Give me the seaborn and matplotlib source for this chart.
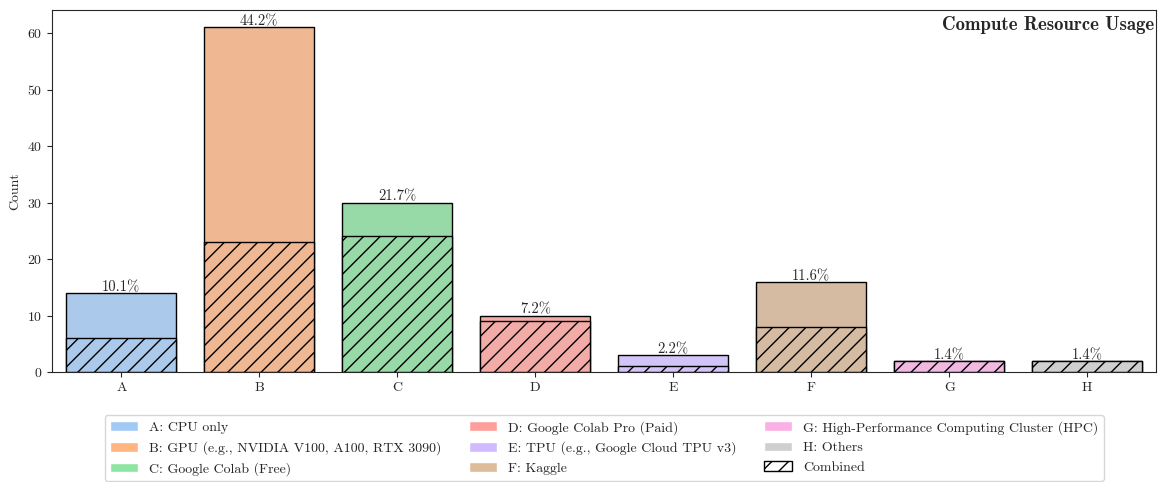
import pandas as pd
import matplotlib.pyplot as plt
from matplotlib.patches import Patch
import seaborn as sns

# data
categories = ['A', 'B', 'C', 'D', 'E', 'F', 'G', 'H']
labels = ['A: CPU only',
          'B: GPU (e.g., NVIDIA V100, A100, RTX 3090)',
          'C: Google Colab (Free)',
          'D: Google Colab Pro (Paid)',
          'E: TPU (e.g., Google Cloud TPU v3)',
          'F: Kaggle',
          'G: High-Performance Computing Cluster (HPC)',
          'H: Others']
totals = [14, 61, 30, 10, 3, 16, 2, 2]
combined = [6, 23, 24, 9, 1, 8, 2, 2]


def main():
    sns.set_style('ticks')
    plt.rcParams['font.family'] = 'serif'
    plt.rcParams['font.serif'] = ['cmr10', 'DejaVu Serif']
    plt.rcParams['mathtext.fontset'] = 'cm'
    plt.rcParams['axes.formatter.use_mathtext'] = True
    plt.rcParams['font.size'] = 10

    palette = sns.color_palette('pastel', len(categories))
    df = pd.DataFrame({'cat': categories, 'total': totals, 'combined': combined})

    fig, ax = plt.subplots(figsize=(11.62, 4.82), dpi=100)
    fig.subplots_adjust(left=0.045, right=0.995, top=0.979, bottom=0.228)

    sns.barplot(data=df, x='cat', y='total', hue='cat', palette=palette,
                edgecolor='black', linewidth=1, legend=False, ax=ax)
    n_before = len(ax.patches)
    sns.barplot(data=df, x='cat', y='combined', hue='cat', palette=palette,
                edgecolor='black', linewidth=1, legend=False, ax=ax)
    for p in ax.patches[n_before:]:
        p.set_hatch('//')

    # percentage labels on top of each bar
    n_total = sum(totals)
    for i, t in enumerate(totals):
        ax.text(i, t - 0.2, f'{100 * t / n_total:.1f}%', ha='center', va='bottom', fontsize=10.5)

    ax.set_xlabel('')
    ax.set_ylabel('Count')
    for s in ['top', 'right']:
        ax.spines[s].set_visible(True)
    ax.text(0.998, 0.985, 'Compute Resource Usage', transform=ax.transAxes,
            ha='right', va='top', fontsize=13.5, family='cmb10')

    handles = [Patch(facecolor=c, label=l) for c, l in zip(palette, labels)]
    handles.append(Patch(facecolor='white', edgecolor='black', hatch='//', label='Combined'))
    ax.legend(handles=handles, loc='upper center', bbox_to_anchor=(0.5, -0.1),
              ncol=3, fontsize=10, frameon=True)

    fig.savefig('out.png', dpi=100)
    plt.close()


if __name__ == "__main__":
    main()
